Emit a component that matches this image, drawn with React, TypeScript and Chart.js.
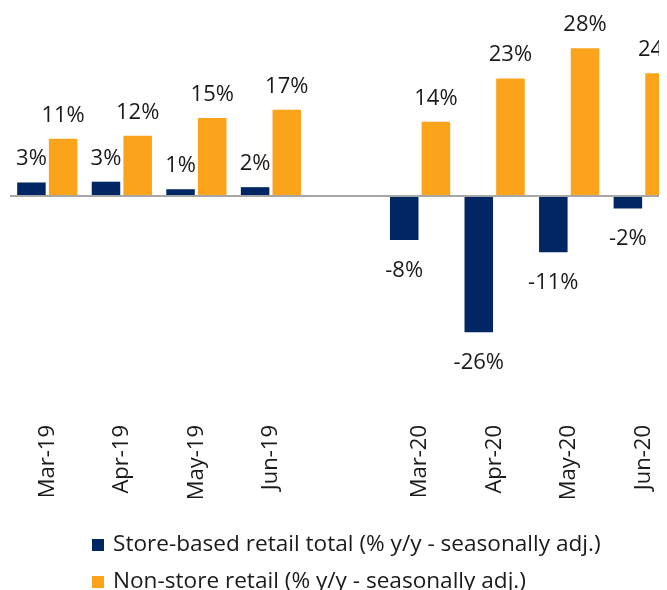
import React, { useEffect, useRef } from 'react';
import { Chart, registerables } from 'chart.js';

Chart.register(...registerables);

const categories = ['Mar-19', 'Apr-19', 'May-19', 'Jun-19', '', 'Mar-20', 'Apr-20', 'May-20', 'Jun-20'];
const storeBased = [2.6, 2.75, 1.3, 1.7, null, -8.45, -26.2, -10.8, -2.4];
const nonStore = [11.0, 11.6, 15.0, 16.6, null, 14.3, 22.6, 28.4, 23.6];
const seriesLabels = [
  'Store-based retail total (% y/y - seasonally adj.)',
  'Non-store retail (% y/y - seasonally adj.)',
];
const seriesColors = ['#002664', '#FBA31A'];

const FONT = '"Open Sans", sans-serif';
const TEXT_COLOR = '#1a1a1a';

const dataLabelPlugin = {
  id: 'dataLabels',
  afterDatasetsDraw(chart: any) {
    const ctx = chart.ctx;
    ctx.save();
    ctx.font = `22px ${FONT}`;
    ctx.fillStyle = TEXT_COLOR;
    ctx.textAlign = 'center';
    ctx.textBaseline = 'alphabetic';
    chart.data.datasets.forEach((ds: any, di: number) => {
      const meta = chart.getDatasetMeta(di);
      meta.data.forEach((bar: any, i: number) => {
        const v = ds.data[i];
        if (v === null || v === undefined) return;
        const txt = `${Math.round(v)}%`;
        const y = v >= 0 ? bar.y - 17 : bar.y + 37;
        ctx.fillText(txt, bar.x, y);
      });
    });
    ctx.restore();
  },
};

const legendPlugin = {
  id: 'customLegend',
  afterDraw(chart: any) {
    const ctx = chart.ctx;
    ctx.save();
    ctx.font = `22.6px ${FONT}`;
    ctx.textAlign = 'left';
    ctx.textBaseline = 'alphabetic';
    chart.data.datasets.forEach((ds: any, i: number) => {
      const rowY = 531 + i * 37;
      ctx.fillStyle = ds.backgroundColor;
      ctx.fillRect(84, rowY, 12, 12);
      ctx.fillStyle = TEXT_COLOR;
      ctx.fillText(ds.label, 105, rowY + 12);
    });
    ctx.restore();
  },
};

export default function App() {
  const ref = useRef<HTMLCanvasElement | null>(null);

  useEffect(() => {
    if (!ref.current) return;
    const chart = new Chart(ref.current, {
      type: 'bar',
      data: {
        labels: categories,
        datasets: [
          {
            label: seriesLabels[0],
            data: storeBased,
            backgroundColor: seriesColors[0],
            categoryPercentage: 0.85,
            barPercentage: 0.9,
          },
          {
            label: seriesLabels[1],
            data: nonStore,
            backgroundColor: seriesColors[1],
            categoryPercentage: 0.85,
            barPercentage: 0.9,
          },
        ],
      },
      options: {
        responsive: false,
        animation: false,
        layout: { padding: { left: 2, right: 0, top: 6, bottom: 104 } },
        plugins: {
          legend: { display: false },
          tooltip: { enabled: false },
        },
        scales: {
          x: {
            grid: { display: false, drawTicks: false },
            border: { display: false },
            ticks: {
              minRotation: 90,
              maxRotation: 90,
              autoSkip: false,
              padding: 21,
              color: TEXT_COLOR,
              font: { family: FONT, size: 22 },
            },
            afterFit(scale: any) {
              scale.height = 100;
              scale.paddingLeft = 0;
              scale.paddingRight = 0;
            },
          },
          y: {
            min: -40,
            max: 35,
            ticks: { display: false, stepSize: 5 },
            border: { display: false },
            grid: {
              drawTicks: false,
              color: (c: any) => (c.tick && c.tick.value === 0 ? '#a6a6a6' : 'rgba(0,0,0,0)'),
              lineWidth: (c: any) => (c.tick && c.tick.value === 0 ? 2 : 0),
            },
            afterFit(scale: any) {
              scale.width = 0;
            },
          },
        },
      },
      plugins: [dataLabelPlugin, legendPlugin],
    });
    return () => chart.destroy();
  }, []);

  return (
    <div style={{ width: 659, height: 582, overflow: 'hidden' }}>
      <canvas ref={ref} width={673} height={600} style={{ display: 'block' }} />
    </div>
  );
}
